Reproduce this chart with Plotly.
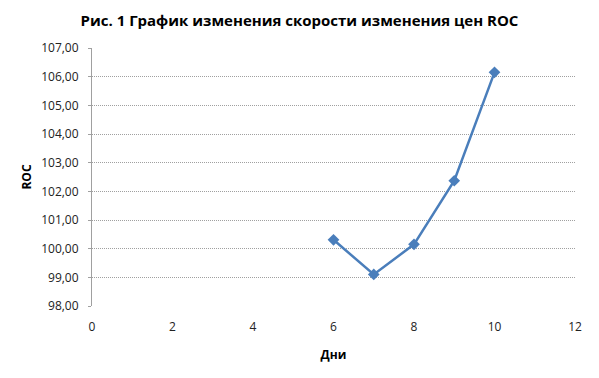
import plotly.graph_objects as go

days = [6, 7, 8, 9, 10]
roc = [100.31, 99.10, 100.15, 102.37, 106.15]
y_ticks = [98, 99, 100, 101, 102, 103, 104, 105, 106, 107]
y_labels = [f"{v:.2f}".replace(".", ",") for v in y_ticks]
x_ticks = [0, 2, 4, 6, 8, 10, 12]

fig = go.Figure()
fig.add_trace(go.Scatter(
    x=days, y=roc, mode="lines+markers",
    line=dict(color="#4A7EBB", width=2.5),
    marker=dict(symbol="diamond", size=9, color="#4A7EBB"),
    showlegend=False,
))
fig.update_layout(
    width=599, height=378,
    margin=dict(l=92, r=24, t=48, b=72),
    paper_bgcolor="white", plot_bgcolor="white",
    font=dict(family="Open Sans, Liberation Sans, sans-serif", size=12, color="#222"),
    title=dict(text="<b>Рис. 1 График изменения скорости изменения цен ROC</b>",
               x=0.5, xanchor="center", y=0.945, yanchor="middle",
               font=dict(size=15, color="#000")),
)
fig.update_xaxes(
    range=[0, 12], tickvals=x_ticks, ticktext=[str(v) for v in x_ticks],
    showgrid=False, zeroline=False, showline=False, ticks="",
    ticklabelstandoff=12,
    title=dict(text="<b>Дни</b>", font=dict(size=12, color="#000"), standoff=16),
)
fig.update_yaxes(
    range=[98, 107], tickvals=y_ticks, ticktext=y_labels,
    showgrid=True, gridcolor="#a0a0a0", griddash="1px,1px", gridwidth=1,
    zeroline=False, showline=True, linecolor="#a0a0a0", linewidth=1,
    ticks="outside", ticklen=3, tickcolor="#a0a0a0", ticklabelstandoff=7,
    title=dict(text="<b>ROC</b>", font=dict(size=12, color="#000"), standoff=6),
)
fig.write_html("out.html")
